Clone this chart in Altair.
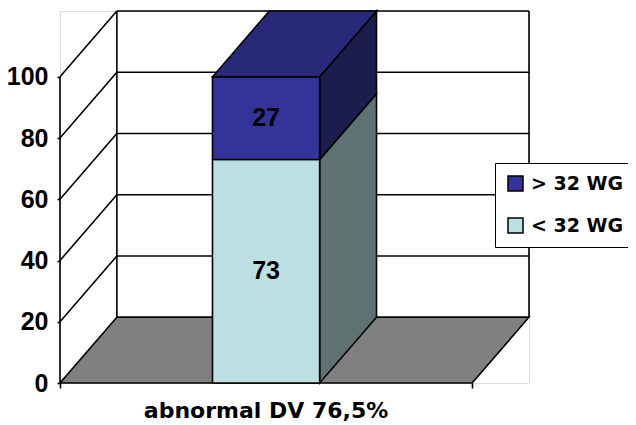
import altair as alt
import pandas as pd

# ---- data ----
categories = ["abnormal DV 76,5%"]
series = ["< 32 WG", "> 32 WG"]          # stacked bottom -> top
values = [73, 27]
legend_order = ["> 32 WG", "< 32 WG"]
y_ticks = [0, 20, 40, 60, 80, 100]

# ---- styling ----
front_colors = {"< 32 WG": "#bce0e3", "> 32 WG": "#333399"}
side_colors = {"< 32 WG": "#5f7272", "> 32 WG": "#1d1d4d"}
top_color = "#29297a"
floor_color = "#808080"
DX = 0.138    # 3-D depth, category units
DY = 21.5     # 3-D depth, value units
BAR_W = 0.26
LW = 1.6
TICK_FONT = "Liberation Sans"
TEXT_FONT = "DejaVu Sans"

ymax = y_ticks[-1]
xa, xb = 0.5 - BAR_W / 2, 0.5 + BAR_W / 2

# stacked segments
rows, side_rows = [], []
start = 0
for s, v in zip(series, values):
    end = start + v
    rows.append(dict(series=s, value=v, start=start, end=end, mid=(start + end) / 2,
                     x=xa, x2=xb, cat=categories[0]))
    side_rows.append(dict(series=s, x=xb, y=start, y2=end, c=side_colors[s]))
    side_rows.append(dict(series=s, x=xb + DX, y=start + DY, y2=end + DY, c=side_colors[s]))
    start = end
total = start
front_df = pd.DataFrame(rows)
side_df = pd.DataFrame(side_rows)
top_df = pd.DataFrame(dict(y=[total, total + DY], x=[xa, xa + DX], x2=[xb, xb + DX]))
floor_df = pd.DataFrame(dict(y=[0, DY], x=[0, DX], x2=[1, 1 + DX]))

lines = []
for v in y_ticks[1:]:
    lines.append(dict(x=DX, x2=1 + DX, y=v + DY, y2=v + DY))   # back wall grid
    lines.append(dict(x=0, x2=DX, y=v, y2=v + DY))              # side wall grid
lines.append(dict(x=DX, x2=DX, y=DY, y2=ymax + DY))
lines.append(dict(x=1 + DX, x2=1 + DX, y=DY, y2=ymax + DY))
lines.append(dict(x=0, x2=0, y=0, y2=ymax))
lines_df = pd.DataFrame(lines)

xscale = alt.Scale(domain=[0, 1 + DX], nice=False, zero=False)
yscale = alt.Scale(domain=[0, ymax + DY], nice=False, zero=False)
xaxis = alt.Axis(values=[0, 1], labels=False, ticks=True, tickSize=5, tickColor="black",
                 tickWidth=LW, domain=False, grid=False, title=None)
yaxis = alt.Axis(values=y_ticks, tickSize=3, tickColor="black", tickWidth=LW, domain=False,
                 grid=False, title=None, labelFont=TICK_FONT, labelFontSize=25,
                 labelFontWeight="bold", labelColor="black", labelPadding=9)


def X(f="x"):
    return alt.X(f"{f}:Q", scale=xscale, axis=xaxis)


def Y(f="y"):
    return alt.Y(f"{f}:Q", scale=yscale, axis=yaxis, stack=None)


grid = alt.Chart(lines_df).mark_rule(color="black", strokeWidth=LW).encode(
    x=X(), x2="x2:Q", y=Y(), y2="y2:Q")

floor = alt.Chart(floor_df).mark_area(orient="horizontal", fill=floor_color, stroke="black",
                                      strokeWidth=LW).encode(y=Y(), x=X(), x2="x2:Q")

side = alt.Chart(side_df).mark_area(orient="vertical", stroke="black", strokeWidth=LW).encode(
    x=X(), y=Y(), y2="y2:Q", detail="series:N", fill=alt.Fill("c:N", scale=None))

top = alt.Chart(top_df).mark_area(orient="horizontal", fill=top_color, stroke="black",
                                  strokeWidth=LW).encode(y=Y(), x=X(), x2="x2:Q")

front = alt.Chart(front_df).mark_rect(stroke="black", strokeWidth=LW).encode(
    x=X(), x2="x2:Q", y=Y("start"), y2="end:Q",
    fill=alt.Fill("series:N",
                  scale=alt.Scale(domain=legend_order,
                                  range=[front_colors[s] for s in legend_order]),
                  legend=alt.Legend(title=None, orient="none", legendX=435, legendY=152,
                                    symbolType="square", symbolSize=225,
                                    symbolStrokeColor="black", symbolStrokeWidth=1.5,
                                    labelFont=TEXT_FONT, labelFontSize=19,
                                    labelFontWeight="bold", labelColor="black",
                                    labelOffset=6, rowPadding=21, padding=11,
                                    strokeColor="black", fillColor="white",
                                    labelLimit=300)))

labels = alt.Chart(front_df).mark_text(font=TICK_FONT, fontSize=25, fontWeight="bold",
                                       color="black", baseline="middle").encode(
    x=alt.X("cx:Q", scale=xscale, axis=xaxis),
    y=Y("mid"), text="value:Q").transform_calculate(cx="(datum.x + datum.x2) / 2")

title = alt.Chart(front_df.iloc[:1]).mark_text(font=TEXT_FONT, fontSize=22, fontWeight="bold",
                                               color="black", baseline="alphabetic", dy=35).encode(
    x=alt.X("cx:Q", scale=xscale, axis=xaxis), y=alt.Y("zero:Q", scale=yscale, axis=yaxis),
    text="cat:N").transform_calculate(cx="(datum.x + datum.x2) / 2", zero="0")

chart = alt.layer(grid, floor, side, top, front, labels, title).properties(
    width=469, height=372,
    autosize=alt.AutoSizeParams(type="none"),
    padding={"left": 52, "top": 3, "right": 99, "bottom": 42},
).configure_view(stroke=None).configure(background="white")

chart.save("out.html", embed_options={"renderer": "svg", "actions": False})
